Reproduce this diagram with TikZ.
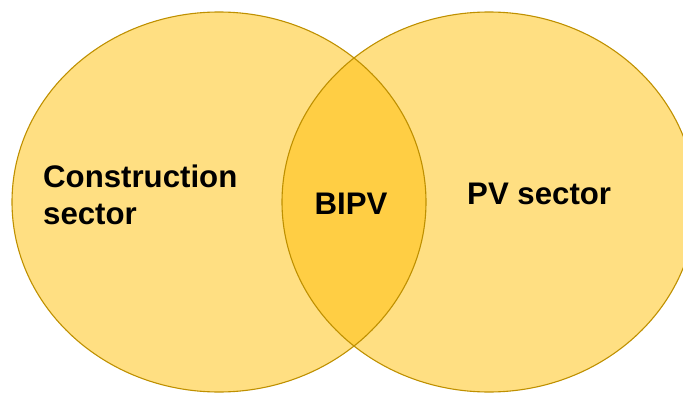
\documentclass[tikz,border=0pt]{standalone}
\usepackage{fontspec}
\setmainfont{Liberation Sans}
\definecolor{venn}{HTML}{FFDF82}
\definecolor{venndark}{HTML}{FFCE44}
\definecolor{vennline}{HTML}{BF9000}
\begin{document}
\begin{tikzpicture}[x=1pt,y=1pt,
  lbl/.style={inner sep=0pt, font=\fontsize{31.2}{37}\selectfont\bfseries, text=black},
  ring/.style={draw=vennline, line width=1.1pt}]
\useasboundingbox (0,0) rectangle (683,392);
\begin{scope}
\clip (0,0) rectangle (683,392);
\fill[venn] (219,190) ellipse [x radius=207, y radius=190];
\fill[venn] (489,190) ellipse [x radius=207, y radius=190];
\begin{scope}
\clip (219,190) ellipse [x radius=207, y radius=190];
\fill[venndark] (489,190) ellipse [x radius=207, y radius=190];
\end{scope}
\draw[ring] (219,190) ellipse [x radius=207, y radius=190];
\draw[ring] (489,190) ellipse [x radius=207, y radius=190];
\end{scope}
\node[lbl, anchor=base west, align=left] (cons) at (43,168) {Construction\\sector};
\node[lbl, anchor=base] (bipv) at (351,178) {BIPV};
\node[lbl, anchor=base west] (pv) at (467,188) {PV sector};
\end{tikzpicture}
\end{document}
